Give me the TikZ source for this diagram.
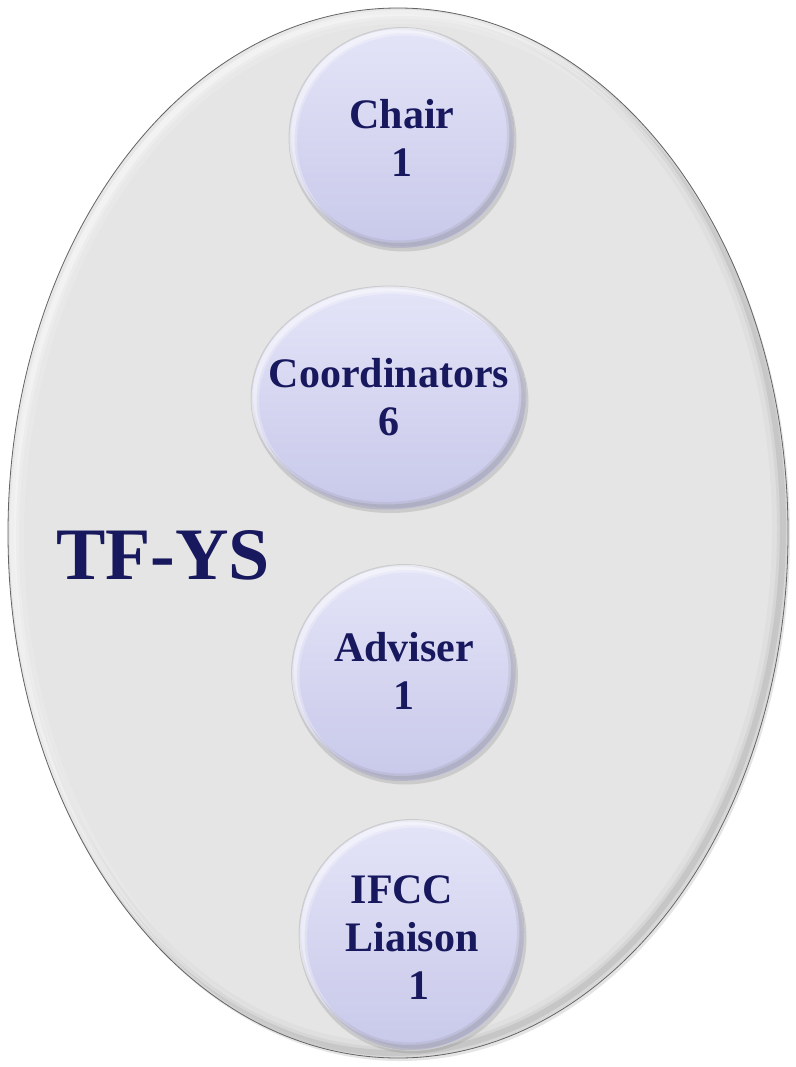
\documentclass[tikz,border=0pt]{standalone}
\usepackage{fontspec}
\setmainfont{Liberation Serif}
\usetikzlibrary{shapes.geometric,shadows}
\definecolor{navy}{RGB}{24,24,94}
\definecolor{bgfill}{RGB}{229,229,229}
\definecolor{ctop}{RGB}{228,228,248}
\definecolor{cbot}{RGB}{200,200,234}
\definecolor{rimgray}{RGB}{100,100,100}
\begin{document}
\begin{tikzpicture}[x=1pt,y=-1pt,
  outer/.style={ellipse, inner sep=0pt, fill=bgfill, minimum width=780pt, minimum height=1050pt},
  member/.style={ellipse, inner sep=0pt, draw=gray!40, line width=0.8pt,
    top color=ctop, bottom color=cbot,
    drop shadow={shadow xshift=1.5pt, shadow yshift=-3pt, opacity=0.25}},
  label/.style={font=\bfseries\fontsize{42}{48}\selectfont, text=navy, align=center, inner sep=0pt},
  title/.style={font=\bfseries\fontsize{74}{80}\selectfont, text=navy, inner sep=0pt}]
\useasboundingbox (0,0) rectangle (795,1067);
\fill[white] (0,0) rectangle (795,1067);
% background ellipse
\node[outer, drop shadow={shadow xshift=2pt, shadow yshift=-3pt, opacity=0.2}] (tfys) at (398,533) {};
\begin{scope}
  \clip (tfys.center) ellipse (390pt and 525pt);
  \foreach \w/\o in {22/0.12,12/0.2,6/0.35}{
    \draw[white, line width=\w pt, opacity=\o] ([shift={(5,5)}]tfys.center) ellipse (390pt and 525pt);
    \draw[gray, line width=\w pt, opacity=0.5*\o] ([shift={(-5,-5)}]tfys.center) ellipse (390pt and 525pt);
  }
\end{scope}
\draw[rimgray, line width=0.8pt] (tfys.center) ellipse (390pt and 525pt);
% member circles
\node[member, minimum width=226pt, minimum height=221pt] (chair) at (402,138) {};
\node[member, minimum width=276pt, minimum height=224pt] (coord) at (389,398) {};
\node[member, minimum width=225pt, minimum height=217pt] (adviser) at (404,673) {};
\node[member, minimum width=226pt, minimum height=231pt] (ifcc) at (412,935) {};
\foreach \n/\rx/\ry in {chair/113/110.5,coord/138/112,adviser/112.5/108.5,ifcc/113/115.5}{
  \begin{scope}
    \clip (\n.center) ellipse (\rx pt and \ry pt);
    \foreach \w/\o in {10/0.25,5/0.4}{
      \draw[white, line width=\w pt, opacity=\o] ([shift={(3,3)}]\n.center) ellipse (\rx pt and \ry pt);
      \draw[gray, line width=\w pt, opacity=0.6*\o] ([shift={(-3,-3)}]\n.center) ellipse (\rx pt and \ry pt);
    }
  \end{scope}
}
% labels
\node[label] (chairtxt) at (chair.center) {Chair\\1};
\node[label] (coordtxt) at ([yshift=1pt]coord.center) {Coordinators\\6};
\node[label] (advisertxt) at ([yshift=2pt]adviser.center) {Adviser\\1};
\node[label] (ifcctxt) at ([yshift=-3pt]ifcc.center) {IFCC\hspace*{20pt}\\Liaison\\\hspace*{14pt}1};
\node[title] (title) at (163,555) {TF-YS};
\end{tikzpicture}
\end{document}
